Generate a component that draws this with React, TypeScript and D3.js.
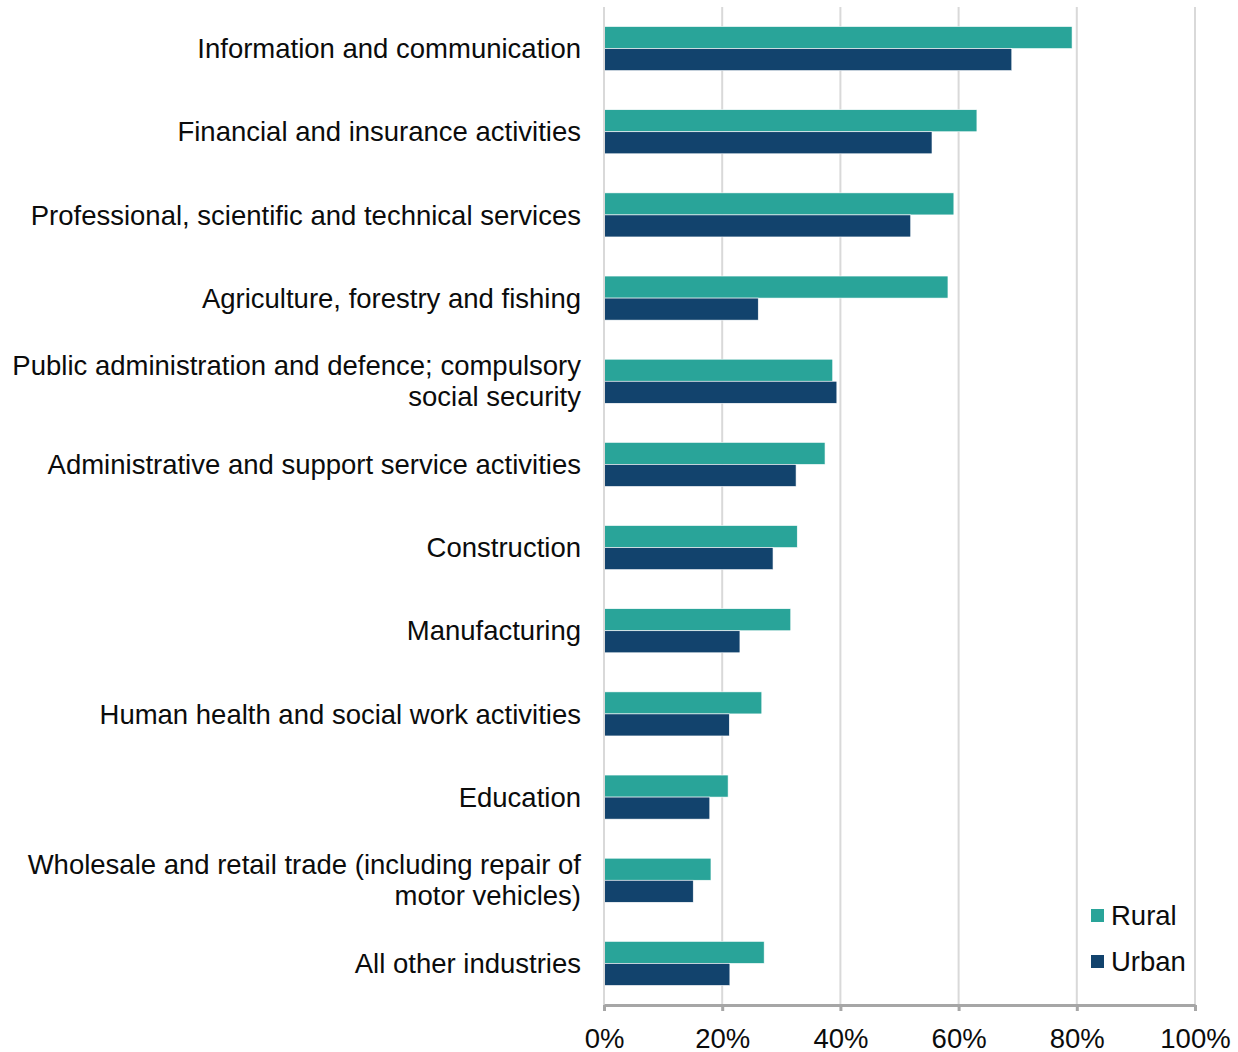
import { useEffect, useRef } from "react"
import * as d3 from "d3"

const industries = [
  ["Information and communication"],
  ["Financial and insurance activities"],
  ["Professional, scientific and technical services"],
  ["Agriculture, forestry and fishing"],
  ["Public administration and defence; compulsory", "social security"],
  ["Administrative and support service activities"],
  ["Construction"],
  ["Manufacturing"],
  ["Human health and social work activities"],
  ["Education"],
  ["Wholesale and retail trade (including repair of", "motor vehicles)"],
  ["All other industries"],
]
const rural = [79.2, 63.1, 59.2, 58.2, 38.7, 37.4, 32.7, 31.6, 26.7, 21.0, 18.1, 27.1]
const urban = [69.0, 55.5, 51.9, 26.1, 39.4, 32.5, 28.6, 23.0, 21.2, 17.9, 15.1, 21.3]
const seriesNames = ["Rural", "Urban"]
const colors = ["#29A499", "#12436D"]
const xTicks = [0, 20, 40, 60, 80, 100]

export default function App() {
  const svgRef = useRef<SVGSVGElement>(null)

  useEffect(() => {
    const W = 1238, H = 1052
    const margin = { top: 7, right: 43, bottom: 47, left: 604 }
    const fs = 27.5
    const svg = d3.select(svgRef.current).attr("width", W).attr("height", H)
    svg.selectAll("*").remove()
    const font = "'Liberation Sans', Arial, sans-serif"

    const x = d3.scaleLinear().domain([0, 100]).range([margin.left, W - margin.right])
    const y = d3.scaleBand<number>()
      .domain(d3.range(industries.length))
      .range([margin.top, H - margin.bottom])
      .paddingInner(0.47)
      .paddingOuter(0.235)
    const y2 = d3.scaleBand<number>().domain([0, 1]).range([0, y.bandwidth()])

    // gridlines
    svg.append("g").selectAll("line")
      .data(xTicks.slice(1))
      .join("line")
      .attr("x1", d => x(d)).attr("x2", d => x(d))
      .attr("y1", margin.top).attr("y2", H - margin.bottom)
      .attr("stroke", "#D9D9D9").attr("stroke-width", 2)

    const groups = svg.append("g").selectAll("g")
      .data(industries.map((_, i) => [rural[i], urban[i]]))
      .join("g")
      .attr("transform", (_, i) => `translate(0,${y(i)})`)
    groups.selectAll("rect")
      .data(d => d)
      .join("rect")
      .attr("x", x(0))
      .attr("y", (_, j) => y2(j)!)
      .attr("width", d => x(d) - x(0))
      .attr("height", y2.bandwidth())
      .attr("fill", (_, j) => colors[j])
      .attr("stroke", "#ffffff").attr("stroke-width", 0.6)

    // category labels
    const labels = svg.append("g").selectAll("text")
      .data(industries)
      .join("text")
      .attr("text-anchor", "end")
      .attr("font-family", font).attr("font-size", fs).attr("fill", "#0b0c0c")
      .attr("x", 581)
      .attr("y", (d, i) => y(i)! + y.bandwidth() / 2 - (d.length - 1) * 15.5 + fs * 0.35)
    labels.selectAll("tspan")
      .data(d => d)
      .join("tspan")
      .attr("x", 581)
      .attr("dy", (_, j) => (j === 0 ? 0 : 31))
      .text(d => d)

    // y axis line
    svg.append("line")
      .attr("x1", x(0)).attr("x2", x(0))
      .attr("y1", margin.top).attr("y2", H - margin.bottom)
      .attr("stroke", "#D9D9D9").attr("stroke-width", 2)

    // x axis
    const axis = svg.append("g")
      .attr("transform", `translate(0,${H - margin.bottom})`)
      .call(d3.axisBottom(x).tickValues(xTicks).tickFormat(d => `${d}%`).tickSizeInner(6).tickSizeOuter(0).tickPadding(17))
    axis.select(".domain").attr("stroke", "#A6A6A6").attr("stroke-width", 3)
    axis.selectAll(".tick line").attr("stroke", "#A6A6A6").attr("stroke-width", 3)
    axis.selectAll(".tick text").attr("font-family", font).attr("font-size", fs).attr("fill", "#0b0c0c")

    // legend
    const leg = svg.append("g").attr("transform", "translate(1091,909)")
    seriesNames.forEach((name, i) => {
      leg.append("rect").attr("x", 0).attr("y", i * 46).attr("width", 13).attr("height", 13).attr("fill", colors[i])
      leg.append("text").attr("x", 20).attr("y", i * 46 + 6.5).attr("dy", "0.35em")
        .attr("font-family", font).attr("font-size", fs).attr("fill", "#0b0c0c").text(name)
    })
  }, [])

  return <svg ref={svgRef} style={{ position: "absolute", left: 0, top: 0, background: "#fff" }} />
}
